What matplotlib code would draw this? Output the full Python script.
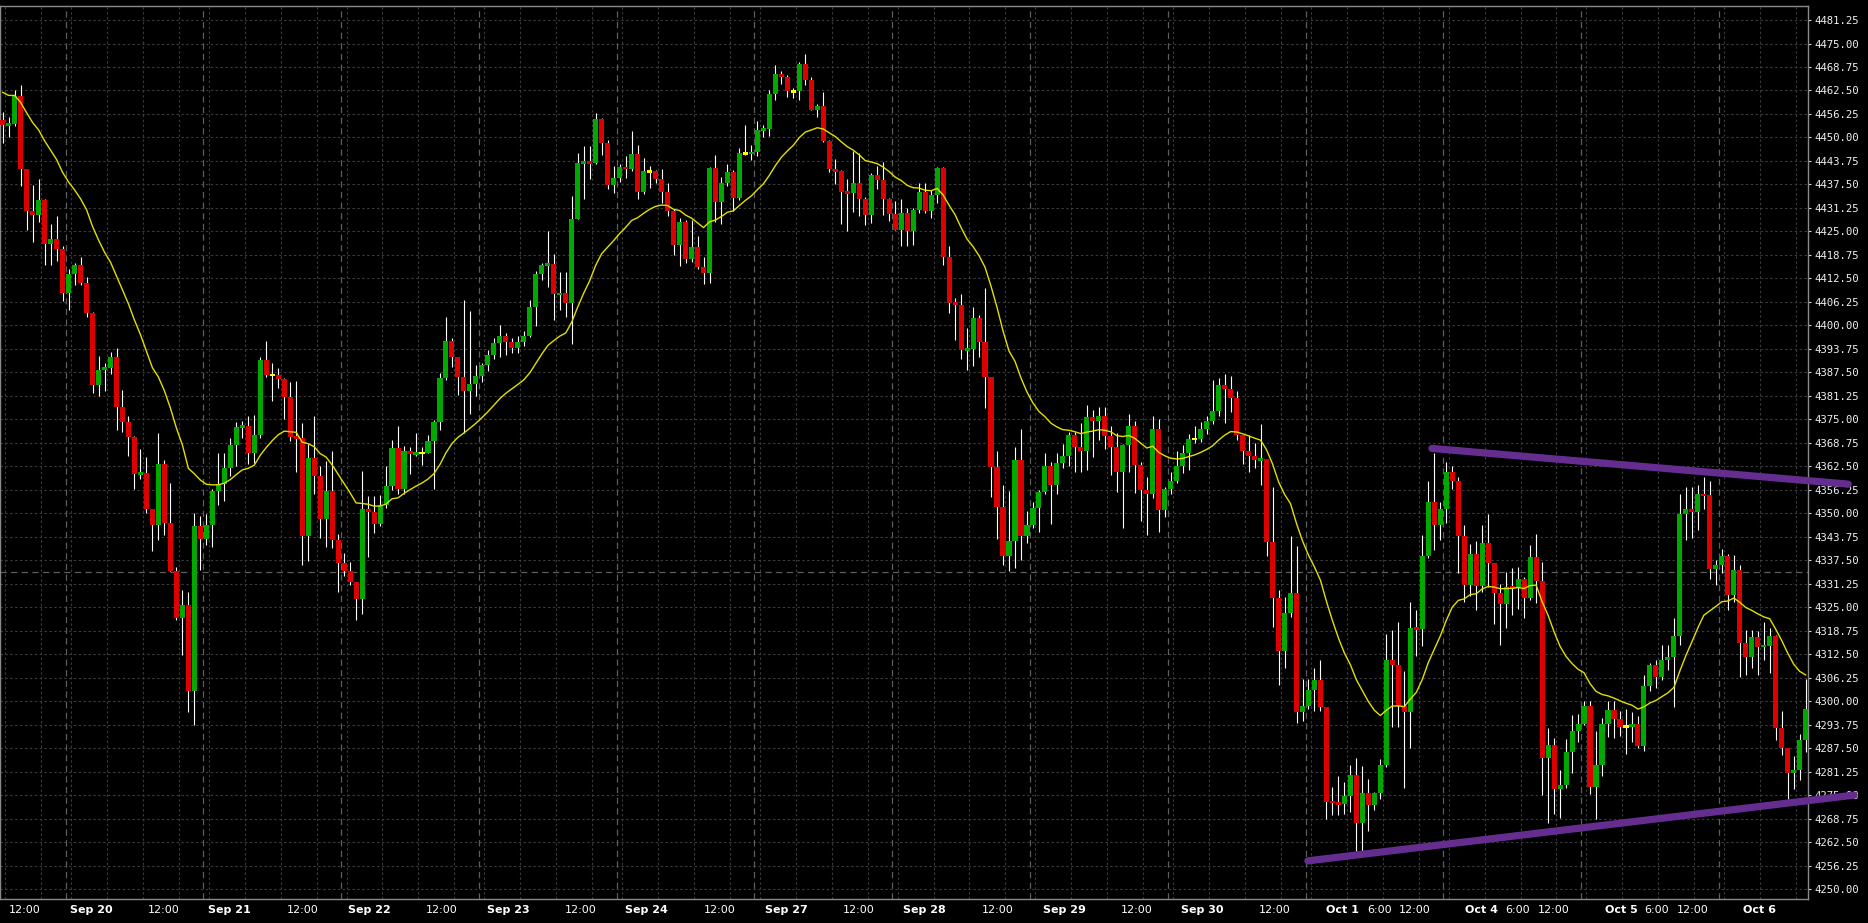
import numpy as np
import matplotlib
matplotlib.use("Agg")
import matplotlib.pyplot as plt
from matplotlib.patches import Rectangle
from matplotlib.collections import PatchCollection

# hourly ES bars, 23 per session (tail of the previous session first)
first_open = 4454.75
closes = [
    4453.25, 4453.5, 4461, 4441.5, 4430.5, 4429.25, 4433.25, 4421.75, 4423, 4420.25, 4408.5,
    # Sep 20
    4413.75, 4416, 4411.25, 4403.25, 4384, 4388.25, 4388.75, 4391.5, 4378.25, 4374.25, 4370.25, 4360.5,
    4360.75, 4351, 4347, 4363, 4347.5, 4334.5, 4322.25, 4325.5, 4302.75, 4346.5, 4343.25,
    # Sep 21
    4347, 4356, 4357.75, 4362, 4368.25, 4373, 4373.25, 4366, 4370.75, 4390.75, 4386.75, 4386.75,
    4385.75, 4381, 4370.25, 4370, 4344, 4364.75, 4360, 4348.5, 4356, 4343, 4336.75,
    # Sep 22
    4334.75, 4331.75, 4327.25, 4351.25, 4350.25, 4347.25, 4352.25, 4357.25, 4367.25, 4356.5, 4366.5, 4365.75,
    4366, 4366, 4369.25, 4374.25, 4386, 4395.75, 4391.5, 4386.25, 4382.5, 4384.5, 4386.5,
    # Sep 23
    4389.5, 4392, 4395.25, 4397.25, 4395.5, 4394, 4395.5, 4397.25, 4405, 4413.75, 4416, 4416.25,
    4408.25, 4408.5, 4406, 4428.25, 4443.25, 4443.5, 4443.25, 4455, 4448.5, 4437.25, 4439.25,
    # Sep 24
    4442.25, 4441.5, 4445.5, 4435.5, 4441, 4441, 4439, 4435.5, 4430.5, 4421.5, 4427.5, 4417.75,
    4420.75, 4415.5, 4414, 4442, 4432.75, 4438, 4440.75, 4434, 4445.75, 4445.75, 4446,
    # Sep 27
    4452, 4452.25, 4461.5, 4467, 4466, 4462.25, 4462.25, 4469.5, 4465.25, 4457.25, 4458.25, 4449,
    4441.5, 4441, 4435.5, 4435.25, 4437.75, 4433.5, 4429.25, 4440, 4438.75, 4433.5, 4429.5,
    # Sep 28
    4425.5, 4430, 4425, 4430.75, 4435.5, 4430.5, 4434.75, 4442, 4418.25, 4406, 4405.5, 4393.5,
    4393.75, 4402, 4395.5, 4386.25, 4362.25, 4351.75, 4338.75, 4342.5, 4364.25, 4344, 4346.75,
    # Sep 29
    4351.5, 4355.75, 4362.5, 4357.5, 4363.5, 4365.25, 4370.75, 4367.75, 4366.5, 4375.5, 4374.5, 4375.75,
    4370.5, 4367.75, 4361, 4368.25, 4373.25, 4362.75, 4356.25, 4355.25, 4372.5, 4350.75, 4356.5,
    # Sep 30
    4358.5, 4362.5, 4366, 4369.75, 4369.75, 4372.5, 4374.5, 4377.25, 4384, 4383, 4380.75, 4370.75,
    4366.5, 4365.25, 4364.25, 4364.5, 4342.25, 4327.5, 4313.25, 4323.5, 4328.75, 4297, 4298.75,
    # Oct 1
    4303, 4305.5, 4298.5, 4273.25, 4273, 4272.5, 4274.75, 4280.25, 4267.5, 4275.5, 4272.25, 4275.5,
    4283, 4311, 4309.5, 4298.75, 4297, 4319.5, 4319.25, 4338.5, 4353, 4347, 4351,
    # Oct 4
    4361, 4358.5, 4344, 4331, 4339.25, 4330.75, 4342, 4336.75, 4328.75, 4325.75, 4330.5, 4330.25,
    4332.5, 4327.5, 4338.25, 4332, 4284.75, 4288.25, 4276.75, 4277.75, 4286.5, 4292, 4294,
    # Oct 5
    4298.75, 4277.25, 4283, 4294, 4297.75, 4295.25, 4293.25, 4293.25, 4294, 4288, 4304, 4309.5,
    4306.5, 4311, 4311.75, 4317.25, 4349.75, 4351, 4350.25, 4355, 4354.75, 4335.25, 4336.25,
    # Oct 6
    4338.5, 4328.25, 4335, 4315.5, 4311.75, 4317, 4314.5, 4314.75, 4317.25, 4292.75, 4287.5, 4281,
    4281.75, 4289.75, 4298,
]
highs = [
    4456.75, 4455.5, 4462.5, 4464, 4441.5, 4437.25, 4439, 4433.5, 4427, 4429, 4421,
    4415, 4416.5, 4418.25, 4412.75, 4403.5, 4391.75, 4390, 4393, 4394, 4382.75, 4375.75, 4370.5,
    4367, 4365, 4351.25, 4371.25, 4364.25, 4358, 4335.75, 4329.5, 4329, 4350, 4349.25,
    4349.75, 4356.5, 4366, 4366, 4370, 4374.25, 4374.5, 4375.75, 4376.25, 4391.5, 4395.75, 4390,
    4388.75, 4386, 4385, 4385.25, 4374, 4368.5, 4376, 4362.5, 4364, 4366.5, 4344.5,
    4339.5, 4337, 4331.75, 4361.25, 4354.5, 4354.5, 4354.75, 4362.5, 4369.5, 4373.25, 4368, 4367.75,
    4371.25, 4367.75, 4370.75, 4374.75, 4387.25, 4402.25, 4396.75, 4391.25, 4406.75, 4403.75, 4389.5,
    4390, 4393.5, 4396.75, 4400, 4398, 4396.75, 4397.25, 4398.5, 4406.75, 4414.5, 4416.5, 4425,
    4419, 4414.25, 4414.25, 4434.5, 4445.75, 4447.75, 4447.75, 4456.5, 4455.25, 4449.25, 4442.5,
    4443, 4445, 4451.75, 4448, 4444.5, 4442.5, 4441.25, 4441.5, 4437.75, 4431, 4428.5, 4428,
    4428, 4423.75, 4418.25, 4442.25, 4445.25, 4439.5, 4443, 4441.25, 4447.25, 4453.25, 4448,
    4454.25, 4453.25, 4462.75, 4469.25, 4467.75, 4466.75, 4463.25, 4470, 4472.25, 4466, 4459, 4462,
    4449.25, 4444.25, 4441.25, 4439, 4446.5, 4445.75, 4434.25, 4440.5, 4442.5, 4443.5, 4434,
    4433, 4433.5, 4431.25, 4431.25, 4438, 4437.75, 4436, 4442.25, 4442.25, 4421, 4407.25, 4408.25,
    4399.25, 4405, 4402.75, 4410, 4386.25, 4366.5, 4357.5, 4356, 4367.75, 4372.5, 4350.5,
    4353, 4356.25, 4366, 4363.75, 4366, 4368.5, 4371.75, 4371.75, 4374, 4378.75, 4377.5, 4378.25,
    4378.25, 4373.25, 4371.25, 4368.5, 4376.5, 4374.5, 4363.75, 4359.75, 4375.75, 4375, 4357,
    4361, 4366.5, 4368.25, 4371, 4373.25, 4374.25, 4376, 4385.5, 4386, 4387, 4386.5, 4382.5,
    4370.75, 4370.75, 4368.75, 4373.75, 4364.5, 4357, 4329.5, 4327.75, 4344, 4341.25, 4306,
    4306, 4308.75, 4311, 4298.5, 4277.25, 4280, 4278.5, 4283, 4284.75, 4282.75, 4279.25, 4275.75,
    4284.5, 4318, 4319, 4321, 4308, 4326.25, 4324.25, 4344.25, 4358.5, 4366, 4353,
    4363.75, 4362.5, 4359.75, 4347, 4341.75, 4342.5, 4346.75, 4349.75, 4336.75, 4331.25, 4334.25, 4335.5,
    4335.75, 4333, 4341.5, 4344.5, 4337, 4292.75, 4290.25, 4281.75, 4290, 4296.25, 4296.5,
    4300, 4300, 4292, 4295.5, 4300, 4300, 4297.5, 4298, 4297, 4296, 4307, 4310.25,
    4311, 4315, 4315, 4322, 4355.25, 4357, 4357, 4357.5, 4359.75, 4358.5, 4337.5,
    4340.5, 4339.25, 4339, 4336.25, 4319, 4319, 4318.75, 4321, 4319.5, 4317.5, 4297.5, 4287.5,
    4285.5, 4291.25, 4306,
]
lows = [
    4448.5, 4450, 4453, 4437, 4425.5, 4422.25, 4427.5, 4416, 4416, 4417, 4406.5,
    4404, 4410.75, 4410.75, 4402.25, 4382, 4381.25, 4382.5, 4387, 4372.25, 4371.75, 4365.25, 4356.5,
    4359, 4350, 4340, 4343, 4344.25, 4334.5, 4321.5, 4312.25, 4297, 4293.75, 4335,
    4341.5, 4341, 4352.25, 4353.25, 4360, 4362.5, 4370, 4363, 4363.25, 4370, 4386.25, 4380,
    4383.25, 4375, 4369.25, 4361, 4336.25, 4337.25, 4355.25, 4343.5, 4341, 4340.75, 4329,
    4333.25, 4331, 4321.5, 4323.25, 4338.25, 4344.75, 4346.5, 4351.5, 4356.25, 4355.25, 4355.25, 4360.5,
    4365.25, 4362.75, 4366, 4356.5, 4372.25, 4385.5, 4389, 4381.5, 4371.25, 4376.5, 4381.25,
    4385, 4387.75, 4391, 4391.5, 4392, 4392.75, 4392.75, 4394.5, 4397, 4399.75, 4412, 4410.25,
    4401.5, 4404, 4402.25, 4395, 4428.25, 4433.75, 4439, 4443, 4445.25, 4436.25, 4435.25,
    4438.25, 4439.25, 4441, 4433.75, 4435, 4436.5, 4437.75, 4432.5, 4429, 4418.75, 4415.75, 4416.5,
    4416.75, 4415, 4411, 4411.25, 4427.5, 4427, 4437, 4430.5, 4433.25, 4445.25, 4444,
    4445, 4450.25, 4450.5, 4460, 4464.25, 4460.75, 4460.5, 4460, 4464, 4457.25, 4455.5, 4448.75,
    4440.75, 4437.5, 4427, 4425, 4430.25, 4429, 4426.75, 4427.25, 4436.25, 4429.25, 4427.75,
    4425.5, 4421, 4421, 4421.5, 4430, 4430, 4428.5, 4432.5, 4416, 4403.25, 4396, 4391,
    4388, 4389.25, 4391.5, 4378, 4354.25, 4343.25, 4336.25, 4334.75, 4335.5, 4337.5, 4342,
    4346, 4345, 4355.25, 4347.25, 4355, 4362, 4362.5, 4361, 4361, 4361.5, 4365, 4369.5,
    4367, 4360.25, 4355.75, 4346, 4361, 4355.5, 4348, 4344.25, 4354, 4345, 4349,
    4355.25, 4358, 4360.75, 4361.5, 4368.75, 4369, 4371, 4373.75, 4376, 4374, 4377, 4369.5,
    4363, 4361, 4362, 4357.5, 4338.5, 4319.75, 4304.25, 4308.75, 4322.5, 4294.25, 4294.75,
    4298, 4297.5, 4297.25, 4268.75, 4269.75, 4269.75, 4270, 4270.5, 4260, 4260.25, 4265.5, 4271,
    4274, 4282.5, 4293.25, 4293, 4277, 4287.5, 4312, 4314.75, 4338, 4340.25, 4343,
    4347.5, 4356.5, 4334, 4326.5, 4328, 4324.25, 4329, 4330.5, 4320.5, 4315, 4319.5, 4323,
    4324.5, 4322.25, 4327, 4326, 4275, 4267.5, 4270, 4269, 4277, 4281, 4289.25,
    4293.75, 4275.25, 4268.75, 4280, 4290.5, 4290.25, 4290.75, 4286, 4289, 4287.5, 4286.75, 4302.75,
    4303.5, 4305.5, 4308.25, 4298.5, 4315, 4343, 4343.5, 4345.5, 4351.25, 4332.5, 4331,
    4334, 4324.25, 4326.25, 4306.5, 4307, 4308.75, 4307, 4311, 4307.5, 4289.75, 4285.75, 4274,
    4276.75, 4279, 4286.5,
]
opens = [first_open] + closes[:-1]

ema_seed = 4462.0
ema_period = 20
last_price = 4334.25

# hand-drawn trend lines (bar index, price)
upper_line_x = [238.6, 308.1]
upper_line_y = [4367.25, 4357.75]
lower_line_x = [217.9, 309.1]
lower_line_y = [4257.5, 4275.0]

price_ticks = np.arange(4250.0, 4481.26, 6.25)
time_labels = ["12:00", "Sep 20", "12:00", "Sep 21", "12:00", "Sep 22", "12:00", "Sep 23",
               "12:00", "Sep 24", "12:00", "Sep 27", "12:00", "Sep 28", "12:00", "Sep 29",
               "12:00", "Sep 30", "12:00", "Oct 1", "6:00", "12:00", "Oct 4", "6:00", "12:00",
               "Oct 5", "6:00", "12:00", "Oct 6"]
label_pos = [3.66, 14.76, 26.88, 37.88, 50.10, 61.20, 73.31, 84.37, 96.53, 107.55, 119.65,
             130.77, 142.87, 153.9, 166.04, 177.18, 189.25, 200.33, 212.42, 223.64, 229.80,
             235.68, 246.91, 252.96, 258.95, 270.18, 276.18, 282.22, 293.29]

n = len(closes)
x = np.arange(n)
o = np.array(opens)
c = np.array(closes)
h = np.array(highs)
l = np.array(lows)

alpha = 2.0 / (ema_period + 1)
ema = np.empty(n)
ema[0] = ema_seed
for i in range(1, n):
    ema[i] = ema[i - 1] + alpha * (c[i] - ema[i - 1])

GREEN = "#00a800"
RED = "#dc0000"
DOJI = "#ffff00"

fig = plt.figure(figsize=(18.68, 9.23), dpi=100, facecolor="black")
ax = fig.add_axes([0.0, 24 / 923, 1808 / 1868, 893 / 923])
ax.set_facecolor("black")
ax.set_xlim(-0.45, 301.39)
ax.set_ylim(4247.35, 4484.98)

grid_kw = dict(color="#3a3a3a", lw=0.8, ls=(0, (2.2, 2.2)), zorder=0)
for p in price_ticks:
    ax.axhline(p, **grid_kw)
sessions = np.arange(-12.5, 302, 23)
for s in sessions:
    for k in range(4):
        ax.axvline(s + 0.9 + 6 * k, **grid_kw)
    if s > 0:
        ax.axvline(s, color="#5e5e5e", lw=0.9, ls=(0, (5, 3.5)), zorder=0.5)
ax.axhline(last_price, color="#5e5e5e", lw=0.9, ls=(0, (5, 3.5)), zorder=0.5)

# candles
ax.vlines(x, l, h, color="white", lw=0.8, zorder=2)
bodies = []
colors = []
for i in range(n):
    lo, hi = min(o[i], c[i]), max(o[i], c[i])
    if hi - lo < 0.7:
        mid = (hi + lo) / 2
        lo, hi = mid - 0.35, mid + 0.35
    bodies.append(Rectangle((x[i] - 0.425, lo), 0.85, hi - lo))
    colors.append(GREEN if c[i] > o[i] else RED if c[i] < o[i] else DOJI)
ax.add_collection(PatchCollection(bodies, facecolors=colors, edgecolors="none", zorder=3))

ax.plot(x, ema, color="#e0e000", lw=1.0, zorder=4)

for lx, ly in [(upper_line_x, upper_line_y), (lower_line_x, lower_line_y)]:
    ax.plot(lx, ly, color="#662d91", lw=5.2, solid_capstyle="round", clip_on=False, zorder=10)

for sp in ax.spines.values():
    sp.set_color("#8a8a8a")
    sp.set_linewidth(1.0)

ax.yaxis.tick_right()
ax.set_yticks(price_ticks)
ax.set_yticklabels([f"{p:.2f}" for p in price_ticks], fontfamily="DejaVu Sans Mono")
ax.tick_params(axis="y", colors="#d8d8d8", labelcolor="#f0f0f0", length=2.5, width=0.8,
               labelsize=7.7, pad=2.2, direction="out")

ax.set_xticks(label_pos)
ax.set_xticklabels(time_labels)
ax.tick_params(axis="x", length=0, pad=4, labelcolor="white", labelsize=8)
for t in ax.get_xticklabels():
    if not t.get_text()[0].isdigit():
        t.set_fontweight("bold")

fig.savefig("out.png", dpi=100, facecolor="black")
